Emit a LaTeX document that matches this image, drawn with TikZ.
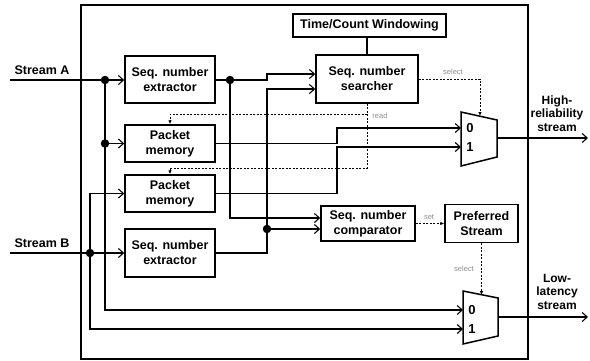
\documentclass[tikz,border=0pt]{standalone}
\usepackage{fontspec}
\setmainfont{Liberation Sans}
\usepackage{xcolor}
\usetikzlibrary{arrows.meta}
\definecolor{tagcolor}{HTML}{8c8c8c}

\tikzset{
    block/.style = {draw, rectangle, line width = 1.5pt, align = center, inner sep = 0pt, font = \bfseries\fontsize{12.5}{15}\selectfont},
    wire/.style = {line width = 1.8pt},
    link/.style = {line width = 1.8pt, -{Straight Barb[length = 5pt, width = 9pt, line width = 1.1pt]}},
    ctrl/.style = {line width = 0.8pt, dash pattern = on 2pt off 1.5pt, -{Latex[length = 4pt, width = 3.5pt]}},
    junc/.style = {circle, fill, inner sep = 0pt, minimum size = 8.5pt},
    tag/.style = {text = tagcolor, font = \fontsize{7.5}{9}\selectfont},
    digit/.style = {font = \bfseries\fontsize{13}{15}\selectfont},
    inlabel/.style = {font = \bfseries\fontsize{12.5}{15}\selectfont},
    outlabel/.style = {align = center, font = \bfseries\fontsize{12}{13.5}\selectfont}
}

\begin{document}
\begin{tikzpicture}[x = 1pt, y = -1pt]
        \useasboundingbox (0, 0) rectangle (590, 360);

        % Frame
        \draw [line width = 1.5pt] (81, 5) rectangle (528, 359);

        % Nodes
        \node [block, minimum width = 90pt, minimum height = 47pt] (exA) at (170, 79.5) {Seq. number\\extractor};
        \node [block, minimum width = 90pt, minimum height = 37pt] (pmA) at (170, 143.5) {Packet\\memory};
        \node [block, minimum width = 90pt, minimum height = 37pt] (pmB) at (170, 193.5) {Packet\\memory};
        \node [block, minimum width = 90pt, minimum height = 48pt] (exB) at (170, 253) {Seq. number\\extractor};
        \node [block, minimum width = 153pt, minimum height = 23pt] (win) at (369.5, 25.5) {Time/Count Windowing};
        \node [block, minimum width = 102pt, minimum height = 48pt] (search) at (367, 79) {Seq. number\\searcher};
        \node [block, minimum width = 94pt, minimum height = 35pt] (comp) at (368, 223.5) {Seq. number\\comparator};
        \node [block, minimum width = 73pt, minimum height = 38pt] (pref) at (481.5, 223.5) {Preferred\\Stream};

        % Multiplexers
        \draw [line width = 1.5pt] (461, 112) -- (497, 120) -- (497, 157) -- (461, 166) -- cycle;
        \draw [line width = 1.5pt] (463, 291) -- (498, 298) -- (498, 336) -- (463, 344) -- cycle;
        \coordinate (muxAin0) at (461, 128);
        \coordinate (muxAin1) at (461, 147);
        \coordinate (muxAout) at (497, 138);
        \coordinate (muxAsel) at (480, 116);
        \coordinate (muxBin0) at (463, 310);
        \coordinate (muxBin1) at (463, 329);
        \coordinate (muxBout) at (498, 317);
        \coordinate (muxBsel) at (481.5, 295);
        \node [digit] (dA0) at (470, 128) {0};
        \node [digit] (dA1) at (470, 147) {1};
        \node [digit] (dB0) at (472, 310) {0};
        \node [digit] (dB1) at (472, 329) {1};

        % Inputs, outputs and junctions
        \coordinate (inA) at (10, 80);
        \coordinate (inB) at (10, 253);
        \coordinate (outA) at (588, 138);
        \coordinate (outB) at (588, 317);
        \node [junc] (jA) at (105, 80) {};
        \node [junc] (jA2) at (105, 143.5) {};
        \node [junc] (jB) at (90, 253) {};
        \node [junc] (jE) at (230, 80) {};
        \node [junc] (jF) at (267, 229) {};

        % Draw the links
        \draw [wire] (inA) -- (jA);
        \draw [link] (jA) -- (exA.west |- jA);
        \draw [link] (jA2) -- (pmA.west);
        \draw [link] (jA) -- (105, 310) -- (muxBin0);
        \draw [wire] (inB) -- (jB);
        \draw [link] (jB) -- (exB.west);
        \draw [link] (jB) -- (90, 193.5) -- (pmB.west);
        \draw [link] (jB) -- (90, 329) -- (muxBin1);

        \draw [wire] (exA.east |- jE) -- (jE);
        \draw [link] (jE) -- (267, 80) -- (267, 74) -- ([yshift = 5pt] search.west);
        \draw [link] (jE) -- (230, 218) -- ([yshift = 5.5pt] comp.west);
        \draw [wire] (exB.east) -- (267, 253) -- (jF);
        \draw [link] (jF) -- ([yshift = -5.5pt] comp.west);
        \draw [link] (jF) -- (267, 89) -- ([yshift = -10pt] search.west);

        \draw [link] (pmA.east) -- (337, 143.5) -- (337, 128) -- (muxAin0);
        \draw [link] (pmB.east) -- (337, 193.5) -- (337, 147) -- (muxAin1);
        \draw [wire] (win.south -| search.north) -- (search.north);
        \draw [link] (muxAout) -- (outA);
        \draw [link] (muxBout) -- (outB);

        % Control signals
        \coordinate (rd) at (367, 114);
        \draw [ctrl] (search.east) -- (480, 79) -- (muxAsel);
        \draw [ctrl] (search.south) -- (367, 168) -| (pmB.north);
        \draw [ctrl] (rd) -| (pmA.north);
        \draw [ctrl] (comp.east) -- (pref.west);
        \draw [ctrl] (pref.south) -- (muxBsel);

        % Labels
        \node [inlabel] (lA) at (42, 70) {Stream A};
        \node [inlabel] (lB) at (42, 243) {Stream B};
        \node [outlabel] (lhr) at (557, 113.5) {High-\\reliability\\stream};
        \node [outlabel] (lll) at (557, 291.5) {Low-\\latency\\stream};
        \node [tag] (tsA) at (453, 72) {select};
        \node [tag] (trd) at (380, 116) {read};
        \node [tag] (tset) at (429, 217) {set};
        \node [tag] (tsB) at (464, 269) {select};

    \end{tikzpicture}
\end{document}
